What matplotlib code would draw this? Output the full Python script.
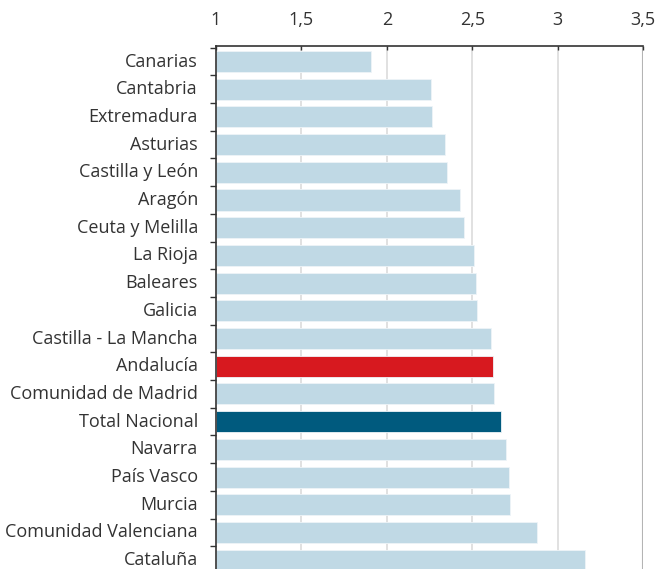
import numpy as np
import matplotlib.pyplot as plt
from matplotlib.ticker import FixedLocator

# comunidades, de arriba a abajo
regiones = ["Canarias", "Cantabria", "Extremadura", "Asturias", "Castilla y León",
            "Aragón", "Ceuta y Melilla", "La Rioja", "Baleares", "Galicia",
            "Castilla - La Mancha", "Andalucía", "Comunidad de Madrid", "Total Nacional",
            "Navarra", "País Vasco", "Murcia", "Comunidad Valenciana", "Cataluña"]
valores = [1.906, 2.261, 2.267, 2.343, 2.353, 2.429, 2.452, 2.509, 2.520, 2.530,
           2.612, 2.620, 2.626, 2.670, 2.698, 2.713, 2.719, 2.877, 3.162]
ticks_x = [1, 1.5, 2, 2.5, 3, 3.5]
etiquetas_x = ["1", "1,5", "2", "2,5", "3", "3,5"]

azul_claro = "#c0d9e5"
colores = {"Andalucía": "#d7191f", "Total Nacional": "#005a7e"}

plt.rcParams['font.family'] = ['Open Sans', 'DejaVu Sans']

fig = plt.figure(figsize=(6.57, 5.69), dpi=100)
ax = fig.add_axes([216/657, 0, (643-216)/657, 1 - 46/569])

y = np.arange(len(regiones))
c = [colores.get(r, azul_claro) for r in regiones]
ax.barh(y, np.array(valores) - 1, left=1, height=0.76, color=c,
        edgecolor="#eef4f8", linewidth=0.6, zorder=2)

ax.set_xlim(1, 3.5)
ax.set_ylim(18.32, -0.56)

# rejilla vertical
for t in ticks_x[1:]:
    col = "#b4b4b4" if t == 3.5 else "#dcdcdc"
    ax.axvline(t, color=col, lw=1.5 if t == 3.5 else 1.2, zorder=1)

ax.xaxis.tick_top()
ax.set_xticks(ticks_x)
ax.set_xticklabels(etiquetas_x)
ax.tick_params(axis="x", direction="in", length=3, width=1, color="#333333",
               labelsize=13, labelcolor="#333333", pad=12)

ax.set_yticks(y)
ax.set_yticklabels(regiones)
ax.yaxis.set_minor_locator(FixedLocator(np.arange(-0.5, len(regiones), 1)))
ax.tick_params(axis="y", which="major", length=0, labelsize=13, labelcolor="#333333", pad=13)
ax.tick_params(axis="y", which="minor", length=4, width=1, color="#333333")
for lab in ax.get_yticklabels():
    lab.set_verticalalignment("center")

for s in ["right", "bottom"]:
    ax.spines[s].set_visible(False)
ax.spines["top"].set_color("#333333")
ax.spines["left"].set_color("#333333")
ax.spines["top"].set_linewidth(1.2)
ax.spines["left"].set_linewidth(1.2)

fig.savefig("out.png", dpi=100)
